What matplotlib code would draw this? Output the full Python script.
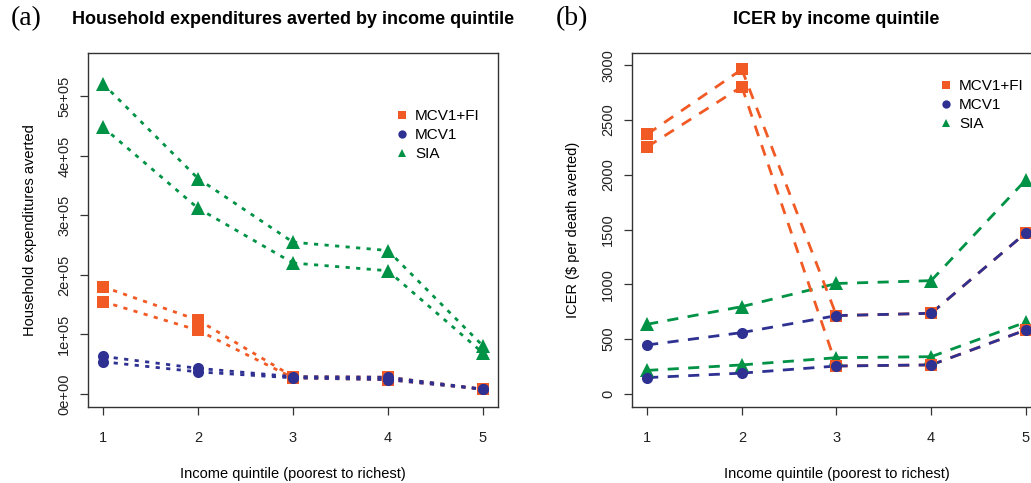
import matplotlib
matplotlib.use("Agg")
import matplotlib.pyplot as plt
from matplotlib.lines import Line2D

plt.rcParams["font.family"] = ["Liberation Sans", "DejaVu Sans"]

quintiles = [1, 2, 3, 4, 5]
quintile_labels = ["1", "2", "3", "4", "5"]

# Panel (a): household expenditures averted (two scenario bounds per strategy)
hh_fi_high = [180000, 124000, 29000, 28000, 8000]
hh_fi_low = [155000, 107000, 27000, 24000, 8000]
hh_mcv1_high = [63000, 43000, 29000, 28000, 8000]
hh_mcv1_low = [54000, 37000, 27000, 24000, 8000]
hh_sia_high = [521000, 362000, 255000, 241000, 81000]
hh_sia_low = [448000, 312000, 220000, 207000, 69000]
hh_yticks = [0, 100000, 200000, 300000, 400000, 500000]
hh_ytick_labels = ["0e+00", "1e+05", "2e+05", "3e+05", "4e+05", "5e+05"]

# Panel (b): ICER ($ per death averted)
icer_fi_high = [2369, 2962, 715, 736, 1470]
icer_fi_low = [2254, 2804, 255, 265, 584]
icer_mcv1_high = [447, 560, 715, 736, 1470]
icer_mcv1_low = [149, 190, 255, 265, 584]
icer_sia_high = [636, 797, 1008, 1034, 1953]
icer_sia_low = [215, 265, 331, 340, 655]
icer_yticks = [0, 500, 1000, 1500, 2000, 2500, 3000]

series_names = ["MCV1+FI", "MCV1", "SIA"]
draw_order = ["SIA", "MCV1+FI", "MCV1"]
colors = {"MCV1+FI": "#F15A24", "MCV1": "#2E3192", "SIA": "#009245"}
markers = {"MCV1+FI": "s", "MCV1": "o", "SIA": "^"}
msizes = {"MCV1+FI": 8.2, "MCV1": 8.0, "SIA": 9.5}

W, H = 1031, 483
fig = plt.figure(figsize=(W / 100, H / 100), dpi=100)


def px_axes(x0, y0, x1, y1):
    return fig.add_axes([x0 / W, 1 - y1 / H, (x1 - x0) / W, (y1 - y0) / H])


def draw_panel(ax, data, dashes):
    z = 2
    for name in draw_order:
        for vals in data[name]:
            # each segment starts its own dash pattern
            for i in range(len(quintiles) - 1):
                ax.plot(quintiles[i:i + 2], vals[i:i + 2], color=colors[name],
                        lw=2.0, linestyle=(0, dashes), dash_capstyle="butt",
                        zorder=z)
        z += 0.01
    for name in draw_order:
        for vals in data[name]:
            ax.plot(quintiles, vals, linestyle="none", marker=markers[name],
                    ms=msizes[name], color=colors[name], markeredgewidth=0,
                    zorder=z)
        z += 0.01


def style_axes(ax):
    for s in ax.spines.values():
        s.set_color("#333333")
        s.set_linewidth(1.0)
    ax.tick_params(axis="both", direction="out", length=6, width=0.9,
                   color="#333333", labelsize=10.5, labelcolor="#222222")
    ax.tick_params(axis="y", pad=6)
    ax.tick_params(axis="x", pad=11)
    ax.set_xticks(quintiles)
    ax.set_xticklabels(quintile_labels)
    for lab in ax.get_yticklabels():
        lab.set_rotation(90)
        lab.set_va("center")


def add_legend(ax, x, y):
    handles = [Line2D([], [], linestyle="none", marker=markers[n],
                      color=colors[n], ms=6, markeredgewidth=0)
               for n in series_names]
    ax.legend(handles, series_names, loc="upper left",
              bbox_to_anchor=(x / W, 1 - y / H), bbox_transform=fig.transFigure,
              frameon=False, fontsize=11, handlelength=0.8, handletextpad=0.45,
              labelspacing=0.33, borderpad=0, borderaxespad=0)


# (a)
ax1 = px_axes(88, 53, 498, 407)
draw_panel(ax1, {"MCV1+FI": [hh_fi_high, hh_fi_low],
                 "MCV1": [hh_mcv1_high, hh_mcv1_low],
                 "SIA": [hh_sia_high, hh_sia_low]}, (1.5, 2.3))
ax1.set_xlim(0.84, 5.16)
ax1.set_ylim(-22000, 573000)
ax1.set_yticks(hh_yticks)
ax1.set_yticklabels(hh_ytick_labels)
style_axes(ax1)
ax1.set_xlabel("Income quintile (poorest to richest)", fontsize=10.5, labelpad=16)
ax1.set_ylabel("Household expenditures averted", fontsize=10.5, labelpad=15)
ax1.set_title("Household expenditures averted by income quintile",
              fontsize=13, fontweight="bold", pad=21)
add_legend(ax1, 396, 109)
fig.text(11 / W, 1 - 19 / H, "(a)", family=["Liberation Serif", "DejaVu Serif"],
         fontsize=20, va="center", ha="left")

# (b)
ax2 = px_axes(632, 53, 1041, 407)
draw_panel(ax2, {"MCV1+FI": [icer_fi_high, icer_fi_low],
                 "MCV1": [icer_mcv1_high, icer_mcv1_low],
                 "SIA": [icer_sia_high, icer_sia_low]}, (4.0, 3.4))
ax2.set_xlim(0.84, 5.16)
ax2.set_ylim(-119, 3111)
ax2.set_yticks(icer_yticks)
style_axes(ax2)
ax2.set_xlabel("Income quintile (poorest to richest)", fontsize=10.5, labelpad=16)
ax2.set_ylabel("ICER ($ per death averted)", fontsize=10.5, labelpad=15)
ax2.set_title("ICER by income quintile", fontsize=13, fontweight="bold", pad=21)
add_legend(ax2, 940, 79)
fig.text(556 / W, 1 - 19 / H, "(b)", family=["Liberation Serif", "DejaVu Serif"],
         fontsize=20, va="center", ha="left")

fig.savefig("out.png", dpi=100, facecolor="white")
